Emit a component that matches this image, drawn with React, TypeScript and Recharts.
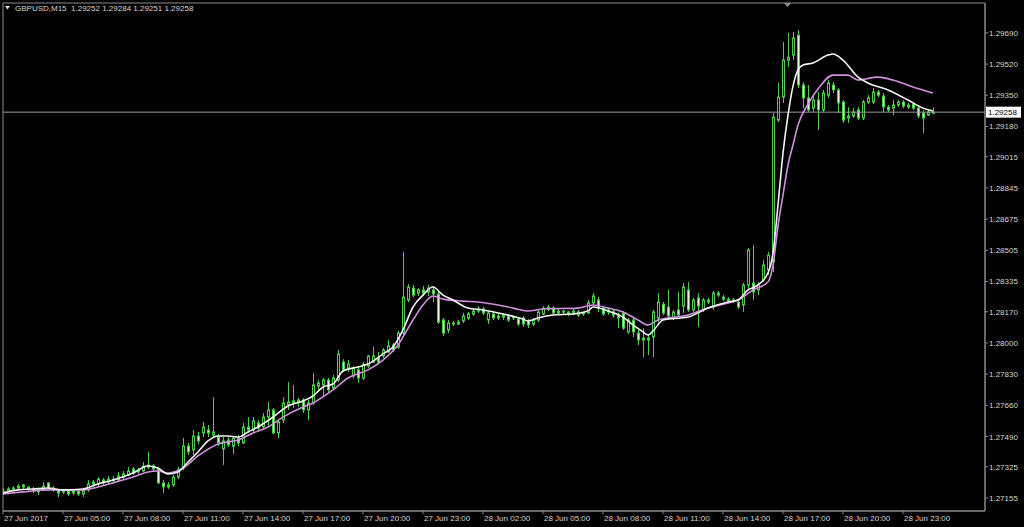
import React from 'react';
import { ComposedChart, XAxis, YAxis, Bar, Line, ReferenceLine, ReferenceArea } from 'recharts';

const symbol = 'GBPUSD,M15';

const opens = [
1.27182,1.27193,1.27204,1.27209,1.27226,1.27215,1.27204,1.27199,1.27199,1.27237,
1.27209,1.27199,1.27188,1.27193,1.27182,1.27193,1.27177,1.27199,1.27231,1.27231,
1.27253,1.27242,1.27258,1.27253,1.27269,1.27280,1.27313,1.27297,1.27302,1.27324,
1.27329,1.27313,1.27237,1.27215,1.27226,1.27269,1.27318,1.27438,1.27417,1.27493,
1.27509,1.27526,1.27498,1.27487,1.27422,1.27471,1.27438,1.27482,1.27455,1.27542,
1.27526,1.27564,1.27542,1.27596,1.27635,1.27509,1.27580,1.27662,1.27673,1.27678,
1.27689,1.27635,1.27673,1.27765,1.27771,1.27798,1.27754,1.27798,1.27896,1.27863,
1.27820,1.27853,1.27809,1.27874,1.27896,1.27918,1.27929,1.27951,1.27989,1.27978,
1.28054,1.28234,1.28299,1.28272,1.28289,1.28278,1.28289,1.28267,1.28125,1.28071,
1.28109,1.28103,1.28120,1.28136,1.28158,1.28174,1.28185,1.28125,1.28158,1.28136,
1.28141,1.28147,1.28136,1.28130,1.28136,1.28120,1.28103,1.28125,1.28158,1.28196,
1.28190,1.28174,1.28174,1.28169,1.28163,1.28169,1.28163,1.28163,1.28218,1.28234,
1.28190,1.28169,1.28169,1.28152,1.28163,1.28060,1.28125,1.28054,1.28016,1.28027,
1.28032,1.28136,1.28212,1.28196,1.28136,1.28180,1.28201,1.28289,1.28180,1.28245,
1.28180,1.28234,1.28196,1.28261,1.28250,1.28239,1.28228,1.28223,1.28207,1.28316,
1.28327,1.28289,1.28343,1.28398,1.28441,1.29215,1.29340,1.29542,1.29569,1.29678,
1.29406,1.29335,1.29280,1.29324,1.29270,1.29351,1.29406,1.29379,1.29313,1.29226,
1.29237,1.29270,1.29226,1.29313,1.29313,1.29368,1.29346,1.29286,1.29280,1.29297,
1.29313,1.29297,1.29302,1.29280,1.29253,1.29242,1.29252,
];

const highs = [
1.27209,1.27215,1.27220,1.27231,1.27231,1.27220,1.27215,1.27209,1.27242,1.27242,
1.27220,1.27204,1.27204,1.27204,1.27204,1.27204,1.27204,1.27253,1.27253,1.27269,
1.27264,1.27275,1.27275,1.27297,1.27302,1.27324,1.27324,1.27318,1.27351,1.27406,
1.27340,1.27324,1.27253,1.27242,1.27280,1.27324,1.27482,1.27455,1.27526,1.27515,
1.27569,1.27553,1.27705,1.27504,1.27487,1.27487,1.27493,1.27498,1.27564,1.27596,
1.27596,1.27580,1.27618,1.27678,1.27645,1.27580,1.27705,1.27787,1.27771,1.27700,
1.27700,1.27689,1.27836,1.27798,1.27809,1.27809,1.27825,1.27962,1.27912,1.27907,
1.27874,1.27869,1.27896,1.27934,1.27978,1.27951,1.27972,1.28016,1.28000,1.28065,
1.28496,1.28321,1.28316,1.28299,1.28310,1.28316,1.28310,1.28278,1.28136,1.28125,
1.28120,1.28125,1.28163,1.28169,1.28185,1.28201,1.28196,1.28174,1.28169,1.28158,
1.28163,1.28158,1.28147,1.28141,1.28147,1.28130,1.28136,1.28180,1.28201,1.28207,
1.28201,1.28185,1.28180,1.28174,1.28185,1.28180,1.28169,1.28234,1.28272,1.28250,
1.28201,1.28190,1.28180,1.28163,1.28174,1.28136,1.28136,1.28071,1.28081,1.28049,
1.28180,1.28272,1.28223,1.28289,1.28180,1.28278,1.28327,1.28332,1.28245,1.28272,
1.28245,1.28245,1.28283,1.28283,1.28261,1.28250,1.28245,1.28234,1.28327,1.28517,
1.28534,1.28332,1.28452,1.28496,1.29253,1.29417,1.29640,1.29689,1.29695,1.29706,
1.29422,1.29406,1.29351,1.29368,1.29379,1.29433,1.29422,1.29389,1.29324,1.29286,
1.29280,1.29286,1.29324,1.29351,1.29389,1.29379,1.29362,1.29297,1.29324,1.29324,
1.29324,1.29308,1.29313,1.29291,1.29270,1.29270,1.29284,
];

const lows = [
1.27171,1.27177,1.27193,1.27199,1.27204,1.27188,1.27182,1.27171,1.27193,1.27199,
1.27188,1.27160,1.27177,1.27166,1.27171,1.27166,1.27160,1.27188,1.27215,1.27220,
1.27226,1.27231,1.27237,1.27248,1.27258,1.27275,1.27280,1.27286,1.27297,1.27313,
1.27302,1.27231,1.27182,1.27204,1.27215,1.27258,1.27308,1.27389,1.27389,1.27449,
1.27487,1.27487,1.27487,1.27438,1.27335,1.27433,1.27395,1.27438,1.27449,1.27509,
1.27515,1.27526,1.27536,1.27542,1.27504,1.27482,1.27564,1.27635,1.27645,1.27651,
1.27618,1.27580,1.27662,1.27744,1.27705,1.27733,1.27744,1.27787,1.27842,1.27842,
1.27809,1.27782,1.27798,1.27863,1.27891,1.27885,1.27918,1.27945,1.27951,1.27967,
1.28043,1.28223,1.28250,1.28256,1.28256,1.28256,1.28223,1.28103,1.28038,1.28054,
1.28092,1.28098,1.28109,1.28125,1.28147,1.28163,1.28152,1.28103,1.28125,1.28125,
1.28125,1.28114,1.28125,1.28092,1.28087,1.28081,1.28092,1.28114,1.28152,1.28174,
1.28152,1.28152,1.28158,1.28147,1.28152,1.28141,1.28147,1.28158,1.28207,1.28169,
1.28147,1.28152,1.28136,1.28081,1.28071,1.28049,1.28032,1.27989,1.27923,1.27934,
1.27923,1.28114,1.28152,1.28125,1.28125,1.28141,1.28163,1.28169,1.28169,1.28087,
1.28169,1.28212,1.28180,1.28250,1.28228,1.28218,1.28218,1.28185,1.28169,1.28289,
1.28234,1.28261,1.28332,1.28370,1.28387,1.29204,1.29308,1.29504,1.29542,1.29389,
1.29280,1.29259,1.29259,1.29161,1.29259,1.29335,1.29362,1.29253,1.29199,1.29199,
1.29226,1.29215,1.29215,1.29302,1.29302,1.29340,1.29259,1.29259,1.29242,1.29286,
1.29280,1.29275,1.29270,1.29226,1.29144,1.29237,1.29251,
];

const closes = [
1.27193,1.27204,1.27209,1.27220,1.27215,1.27204,1.27193,1.27188,1.27220,1.27209,
1.27199,1.27182,1.27193,1.27177,1.27193,1.27177,1.27193,1.27231,1.27242,1.27258,
1.27237,1.27258,1.27248,1.27275,1.27286,1.27302,1.27291,1.27308,1.27329,1.27335,
1.27313,1.27237,1.27215,1.27226,1.27269,1.27308,1.27438,1.27406,1.27493,1.27466,
1.27542,1.27509,1.27515,1.27455,1.27466,1.27444,1.27482,1.27455,1.27542,1.27526,
1.27575,1.27536,1.27596,1.27635,1.27509,1.27569,1.27673,1.27678,1.27684,1.27689,
1.27635,1.27673,1.27771,1.27782,1.27798,1.27744,1.27809,1.27940,1.27853,1.27885,
1.27863,1.27809,1.27885,1.27929,1.27929,1.27896,1.27962,1.27983,1.27962,1.28054,
1.28250,1.28305,1.28261,1.28289,1.28272,1.28299,1.28267,1.28114,1.28054,1.28109,
1.28103,1.28114,1.28147,1.28158,1.28174,1.28185,1.28163,1.28163,1.28136,1.28147,
1.28152,1.28125,1.28141,1.28103,1.28103,1.28098,1.28125,1.28169,1.28190,1.28185,
1.28163,1.28163,1.28169,1.28158,1.28174,1.28152,1.28158,1.28218,1.28256,1.28190,
1.28158,1.28180,1.28152,1.28136,1.28081,1.28125,1.28060,1.28016,1.28027,1.28016,
1.28169,1.28223,1.28163,1.28147,1.28169,1.28152,1.28305,1.28180,1.28234,1.28201,
1.28234,1.28223,1.28272,1.28272,1.28239,1.28228,1.28234,1.28196,1.28316,1.28507,
1.28278,1.28316,1.28425,1.28479,1.29231,1.29340,1.29542,1.29558,1.29662,1.29406,
1.29335,1.29270,1.29324,1.29270,1.29362,1.29417,1.29379,1.29308,1.29215,1.29237,
1.29259,1.29226,1.29313,1.29335,1.29368,1.29351,1.29286,1.29270,1.29297,1.29313,
1.29291,1.29286,1.29280,1.29237,1.29226,1.29259,1.29258,
];

// moving averages: [bar index, value]
const fastMa: [number, number][] = [
[0,1.27182],[3,1.27199],[6,1.27204],[9,1.27209],[12,1.27199],[16,1.27204],[19,1.27231],[22,1.27253],
[26,1.27291],[29,1.27329],[31,1.27318],[33,1.27286],[35,1.27297],[37,1.27351],[39,1.27406],[41,1.27466],
[43,1.27493],[45,1.27493],[47,1.27487],[49,1.27515],[51,1.27542],[54,1.27596],[57,1.27656],[60,1.27684],
[62,1.27711],[64,1.27760],[66,1.27776],[68,1.27847],[71,1.27869],[73,1.27885],[76,1.27940],[78,1.27978],
[80,1.28071],[82,1.28196],[84,1.28261],[86,1.28305],[88,1.28261],[90,1.28234],[93,1.28190],[96,1.28180],
[100,1.28158],[104,1.28130],[105,1.28120],[107,1.28136],[110,1.28152],[114,1.28158],[117,1.28174],[118,1.28196],
[121,1.28174],[124,1.28141],[126,1.28098],[128,1.28060],[129,1.28043],[130,1.28065],[132,1.28125],[137,1.28141],
[141,1.28190],[145,1.28223],[147,1.28234],[149,1.28289],[151,1.28316],[153,1.28381],[154,1.28490],[155,1.28752],
[156,1.29035],[157,1.29242],[158,1.29400],[159,1.29488],[160,1.29515],[162,1.29526],[165,1.29569],[166,1.29575],
[168,1.29542],[171,1.29449],[173,1.29417],[177,1.29379],[181,1.29324],[184,1.29280],[186,1.29264],
];

const slowMa: [number, number][] = [
[0,1.27177],[4,1.27188],[9,1.27199],[16,1.27199],[19,1.27215],[22,1.27237],[26,1.27269],[29,1.27297],
[31,1.27302],[33,1.27291],[36,1.27318],[39,1.27384],[43,1.27449],[47,1.27471],[50,1.27509],[53,1.27542],
[56,1.27596],[60,1.27651],[62,1.27673],[66,1.27744],[69,1.27809],[73,1.27853],[76,1.27907],[79,1.27989],
[82,1.28125],[84,1.28207],[86,1.28256],[88,1.28239],[92,1.28228],[95,1.28223],[99,1.28207],[102,1.28190],
[105,1.28174],[108,1.28185],[115,1.28190],[118,1.28207],[121,1.28190],[124,1.28169],[127,1.28125],[129,1.28098],
[131,1.28125],[137,1.28152],[141,1.28190],[145,1.28218],[147,1.28234],[150,1.28289],[153,1.28332],[154,1.28425],
[155,1.28637],[156,1.28806],[157,1.28970],[158,1.29079],[159,1.29188],[161,1.29302],[163,1.29384],[166,1.29460],
[169,1.29460],[171,1.29433],[175,1.29449],[178,1.29433],[182,1.29395],[186,1.29362],
];

const xTicks = [0, 12, 24, 36, 48, 60, 72, 84, 96, 108, 120, 132, 144, 156, 168, 180];
const xLabels = [
  '27 Jun 2017', '27 Jun 05:00', '27 Jun 08:00', '27 Jun 11:00', '27 Jun 14:00', '27 Jun 17:00',
  '27 Jun 20:00', '27 Jun 23:00', '28 Jun 02:00', '28 Jun 05:00', '28 Jun 08:00', '28 Jun 11:00',
  '28 Jun 14:00', '28 Jun 17:00', '28 Jun 20:00', '28 Jun 23:00',
];
const yTicks = [
  1.2969, 1.2952, 1.2935, 1.2918, 1.29015, 1.28845, 1.28675, 1.28505, 1.28335, 1.2817,
  1.28, 1.2783, 1.2766, 1.2749, 1.27325, 1.27155,
];

const X_MAX = 196.4;
const Y_MIN = 1.27084;
const Y_MAX = 1.29853;

const GREEN = '#46d246';
const BEAR_FILL = '#e4fadc';
const FRAME = '#8a8a8a';
const TEXT = '#d4d4d4';
const FONT = '"Liberation Sans", Arial, sans-serif';

const fastMap = new Map(fastMa);
const slowMap = new Map(slowMa);
const rows = opens.map((o, i) => ({
  i,
  o,
  h: highs[i],
  l: lows[i],
  c: closes[i],
  range: [lows[i], highs[i]],
  fast: fastMap.has(i) ? fastMap.get(i) : null,
  slow: slowMap.has(i) ? slowMap.get(i) : null,
}));

const last = rows[rows.length - 1];

const Candle = (props: any) => {
  const { x, y, width, height, payload } = props;
  if (!payload || payload.o == null) return null;
  const { o, h, l, c } = payload;
  const p = Math.round(x + width / 2 - 0.5);
  const cx = p + 0.5;
  const k = h === l ? 0 : height / (h - l);
  const yO = y + (h - o) * k;
  const yC = y + (h - c) * k;
  const top = Math.min(yO, yC);
  const bot = Math.max(yO, yC);
  const bull = c >= o;
  return (
    <g>
      <line x1={cx} x2={cx} y1={y} y2={y + height} stroke={GREEN} strokeWidth={1} />
      <rect
        x={p - 0.5}
        y={top}
        width={2}
        height={Math.max(bot - top, 1)}
        fill={bull ? '#000' : BEAR_FILL}
        stroke={GREEN}
        strokeWidth={1}
      />
    </g>
  );
};

const XTick = (props: any) => {
  const { x, y, payload } = props;
  const idx = xTicks.indexOf(payload.value);
  return (
    <text x={x + 1} y={y + 5} fill={TEXT} fontSize={8} fontFamily={FONT} textAnchor="start">
      {xLabels[idx]}
    </text>
  );
};

const YTick = (props: any) => {
  const { x, y, payload } = props;
  return (
    <text x={x - 1} y={y + 3} fill={TEXT} fontSize={8} fontFamily={FONT} textAnchor="start">
      {Number(payload.value).toFixed(5)}
    </text>
  );
};

const PriceTag = (props: any) => {
  const vb = props.viewBox || {};
  const right = (vb.x || 0) + (vb.width || 0);
  const yy = vb.y || 0;
  return (
    <g>
      <rect x={right + 1} y={yy - 5.5} width={35} height={11} fill="#ffffff" />
      <text x={right + 3} y={yy + 3} fontSize={8} fontFamily={FONT} fill="#000">
        {last.c.toFixed(5)}
      </text>
    </g>
  );
};

export default function App() {
  const header = `${symbol}  ${last.o.toFixed(5)} ${last.h.toFixed(5)} ${last.l.toFixed(5)} ${last.c.toFixed(5)}`;
  return (
    <div style={{ position: 'absolute', left: 0, top: 0, width: 1024, height: 527, background: '#000', overflow: 'hidden' }}>
      <ComposedChart width={1024} height={527} data={rows} margin={{ top: 3, right: 0, bottom: 0, left: 3 }}>
        <XAxis
          type="number"
          dataKey="i"
          domain={[0, X_MAX]}
          allowDataOverflow
          ticks={xTicks}
          interval={0}
          tick={XTick}
          tickSize={3}
          tickLine={{ stroke: FRAME }}
          axisLine={{ stroke: FRAME }}
          height={16}
        />
        <YAxis
          orientation="right"
          type="number"
          domain={[Y_MIN, Y_MAX]}
          allowDataOverflow
          ticks={yTicks}
          interval={0}
          tick={YTick}
          tickSize={3}
          tickLine={{ stroke: FRAME }}
          axisLine={{ stroke: FRAME }}
          width={39}
        />
        <ReferenceArea x1={0} x2={X_MAX} y1={Y_MIN} y2={Y_MAX} fill="none" stroke={FRAME} ifOverflow="visible" />
        <ReferenceLine y={last.c} stroke="#9a9a9a" strokeWidth={1} ifOverflow="visible" label={PriceTag} />
        <Bar dataKey="range" barSize={3} shape={Candle} isAnimationActive={false} />
        <Line
          type="monotone"
          dataKey="slow"
          stroke="#d48ede"
          strokeWidth={1.6}
          dot={false}
          connectNulls
          isAnimationActive={false}
        />
        <Line
          type="monotone"
          dataKey="fast"
          stroke="#f4f4f4"
          strokeWidth={1.6}
          dot={false}
          connectNulls
          isAnimationActive={false}
        />
      </ComposedChart>
      <svg width={1024} height={527} style={{ position: 'absolute', left: 0, top: 0, pointerEvents: 'none' }}>
        <polygon points="5,6 10,6 7.5,9.5" fill="#dddddd" />
        <text x={15} y={11} fontSize={8} fontFamily={FONT} fill={TEXT} style={{ whiteSpace: 'pre' }}>
          {header}
        </text>
        <polygon points="784,3 791,3 787.5,7" fill="#8a8a8a" />
      </svg>
    </div>
  );
}
